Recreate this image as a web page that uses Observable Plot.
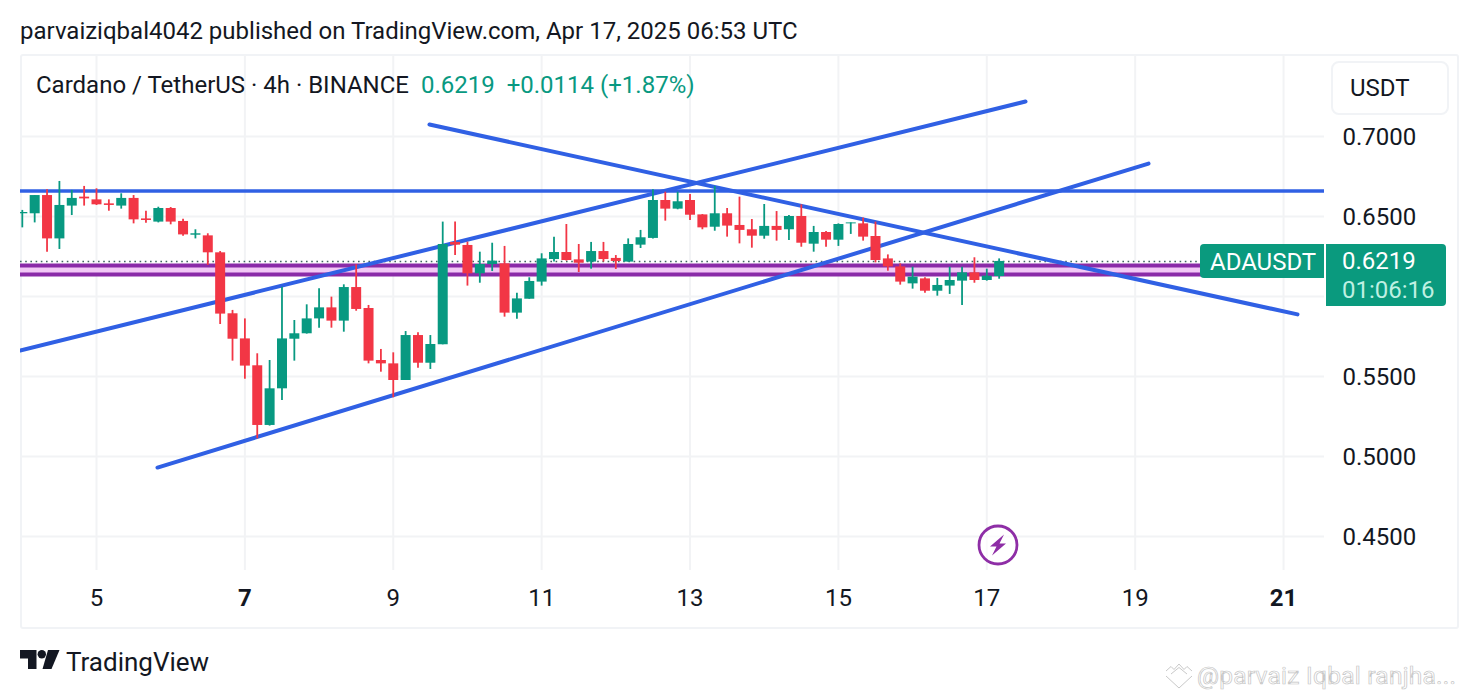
<!DOCTYPE html>
<html><head><meta charset="utf-8">
<script src="https://cdn.jsdelivr.net/npm/d3@7"></script>
<script src="https://cdn.jsdelivr.net/npm/@observablehq/plot@0.6"></script>
<style>
html,body{margin:0;padding:0;background:#fff;overflow:hidden;width:1476px;height:696px}
body{font-family:Roboto,sans-serif;color:#131722;position:relative}
.abs{position:absolute;white-space:nowrap}
#chart{position:absolute;left:0;top:55px}
#chart svg{display:block;overflow:visible;background:transparent}
</style></head><body>
<div class="abs" style="left:20px;top:54px;width:1435px;height:571px;border:2px solid #f1f3f6;border-radius:3px;box-sizing:content-box"></div>
<div id="chart"></div>
<div class="abs" id="title" style="left:20px;top:16px;font-size:24px;line-height:30px"></div>
<div class="abs" id="legend" style="left:36px;top:70px;font-size:24px;line-height:30px"></div>
<div class="abs" id="currency" style="left:1331px;top:61px;width:114px;height:50px;border:2px solid #f1f3f6;border-radius:8px;font-size:24px;line-height:50px;text-indent:17px"></div>
<div class="abs" id="symtag" style="left:1200px;top:244px;width:124px;height:34px;background:#0a9a7e;border-radius:4px 0 0 4px;color:#fff;font-size:24px;line-height:36px;text-indent:10px"></div>
<div class="abs" id="pricetag" style="left:1326px;top:244px;width:120px;height:62px;background:#0a9a7e;border-radius:0 4px 4px 0;color:#fff;font-size:24px;line-height:29px;padding-top:3px;box-sizing:border-box;text-indent:16px"></div>
<svg class="abs" style="left:977px;top:524px" width="42" height="42" viewBox="0 0 42 42">
  <circle cx="21" cy="21" r="19" fill="#fff" fill-opacity="0.6" stroke="#8e2ea6" stroke-width="2.8"/>
  <path d="M27 10.5 L13 22.5 H19.5 L15 31.5 L29 19.5 H22.5 Z" fill="#8e2ea6"/>
</svg>
<svg class="abs" style="left:20px;top:650px" width="40" height="20" viewBox="0 0 40 20">
  <path d="M0 0 H16.5 V19 H8 V8.5 H0 Z" fill="#131722"/>
  <circle cx="21.8" cy="4.3" r="4.2" fill="#131722"/>
  <path d="M28 0 H39.5 L31.5 19 H22.5 Z" fill="#131722"/>
</svg>
<div class="abs" id="brand" style="left:66px;top:646px;font-size:26px;line-height:32px"></div>
<svg class="abs" style="left:1165px;top:662px" width="28" height="28" viewBox="0 0 28 28" fill="none" stroke="#c9c9c9" stroke-width="1">
  <path d="M1 9 L6 4.5 L9 7.5 L14 2 L19 7.5 L22 4.5 L27 9 M6 12 L14 5.5 L22 12 M1 14 L14 26 L27 14"/>
</svg>
<div class="abs" id="watermark" style="left:1197px;top:660px;font-size:24.5px;line-height:32px;color:#fff;-webkit-text-stroke:0.7px #c4c4c4;letter-spacing:0.25px"></div>
<script>
const titleText = "parvaiziqbal4042 published on TradingView.com, Apr 17, 2025 06:53 UTC";
const legendText = "Cardano / TetherUS · 4h · BINANCE";
const legendPrice = "0.6219";
const legendChange = "+0.0114 (+1.87%)";
const currency = "USDT";
const symbol = "ADAUSDT";
const lastPrice = "0.6219";
const countdown = "01:06:16";
const brand = "TradingView";
const watermark = "@parvaiz Iqbal ranjha...";

const firstDay = 4, candlesPerDay = 6;
const opens = [.6517,.6517,.6631,.6360,.6565,.6621,.6604,.6579,.6565,.6613,.6485,.6465,.6550,.6469,.6383,.6379,.6273,.5892,.5735,.5567,
 .5194,.5423,.5733,.5767,.5860,.5929,.5846,.6056,.5925,.5600,.5579,.5475,.5756,.5583,.5698,.6338,.6319,.6142,.6200,.6204,
 .5896,.5983,.6090,.6231,.6275,.6229,.6215,.6281,.6238,.6215,.6321,.6363,.6600,.6546,.6600,.6510,.6433,.6517,.6444,.6417,
 .6377,.6438,.6417,.6500,.6327,.6400,.6352,.6454,.6454,.6375,.6235,.6185,.6079,.6110,.6033,.6065,.6096,.6148,.6100,.6125];
const highs = [.6538,.6631,.6667,.6719,.6663,.6688,.6673,.6604,.6642,.6631,.6533,.6558,.6556,.6483,.6417,.6392,.6281,.5913,.5860,.5642,
 .5600,.6058,.5850,.5948,.6048,.5996,.6073,.6198,.5944,.5669,.5648,.5781,.5773,.5756,.6465,.6465,.6340,.6277,.6333,.6313,
 .6021,.6117,.6267,.6371,.6450,.6325,.6338,.6338,.6256,.6360,.6413,.6667,.6652,.6652,.6638,.6512,.6688,.6550,.6621,.6481,
 .6575,.6531,.6506,.6573,.6438,.6406,.6454,.6460,.6490,.6465,.6260,.6204,.6183,.6117,.6113,.6183,.6183,.6242,.6171,.6235];
const lows = [.6429,.6460,.6277,.6294,.6506,.6565,.6569,.6533,.6546,.6454,.6458,.6460,.6448,.6377,.6360,.6194,.5825,.5596,.5483,.5110,
 .5190,.5350,.5596,.5765,.5802,.5802,.5777,.5908,.5579,.5527,.5367,.5475,.5552,.5544,.5698,.6256,.6065,.6083,.6156,.5871,
 .5858,.5983,.6065,.6215,.6221,.6150,.6171,.6215,.6169,.6215,.6300,.6360,.6471,.6542,.6475,.6417,.6408,.6371,.6329,.6302,
 .6358,.6346,.6350,.6308,.6277,.6308,.6313,.6388,.6346,.6210,.6158,.6071,.6046,.6021,.6002,.6013,.5944,.6083,.6096,.6108];
const closes = [.6525,.6631,.6360,.6569,.6613,.6610,.6573,.6569,.6613,.6479,.6475,.6550,.6465,.6385,.6392,.6273,.5890,.5733,.5565,.5194,
 .5423,.5735,.5767,.5860,.5929,.5846,.6056,.5919,.5596,.5579,.5475,.5756,.5583,.5700,.6325,.6321,.6142,.6200,.6221,.5896,
 .5985,.6094,.6235,.6275,.6225,.6208,.6281,.6231,.6219,.6325,.6367,.6600,.6546,.6592,.6508,.6429,.6517,.6440,.6413,.6377,
 .6438,.6413,.6500,.6333,.6400,.6352,.6450,.6460,.6371,.6225,.6185,.6090,.6121,.6033,.6069,.6100,.6148,.6100,.6127,.6219];

// Drawn trend lines: [day, price] end points
const risingUpperDays = [3.97, 17.522], risingUpperPrices = [.56625, .7219];
const risingLowerDays = [5.822, 19.18], risingLowerPrices = [.4931, .6831];
const fallingDays = [9.488, 21.188], fallingPrices = [.7075, .5888];
const resistanceDays = [3.97, 21.56], resistancePrices = [.6659, .6659];

const zoneTop = .6194, zoneBottom = .6137, lastClose = .6219;
const gridPrices = [.45,.5,.55,.6,.65,.7];
const priceTicks = [.45,.5,.55,.65,.7];
const gridDays = [5,7,9,11,13,15,17,19,21];
const plainDays = [5,9,11,13,15,17,19];
const boldDays = [7,21];

const green = "#089981", red = "#f23645", blue = "#3060e4", purple = "#8a2ba8";
const candles = opens.map((o,i)=>({day:firstDay+i/candlesPerDay,o,h:highs[i],l:lows[i],c:closes[i]}));
const pts = (xs,ys)=>xs.map((x,i)=>({x,y:ys[i]}));
const trend = (xs,ys,w=4)=>Plot.line(pts(xs,ys),{x:"x",y:"y",stroke:blue,strokeWidth:w,strokeLinecap:"round",clip:true});
const dirColor = d=>d.c>=d.o?green:red;

const plot = Plot.plot({
  width:1476,height:570,marginTop:0,marginLeft:20,marginRight:152,marginBottom:55,
  style:{fontFamily:"Roboto",background:"transparent",color:"#131722"},
  x:{domain:[3.9756,21.552],label:null},
  y:{domain:[.42875,.750625],label:null},
  marks:[
    Plot.ruleY(gridPrices,{stroke:"#f2f3f5",strokeWidth:2}),
    Plot.ruleX(gridDays,{stroke:"#f2f3f5",strokeWidth:2}),
    Plot.rect([{}],{x1:3.9756,x2:21.552,y1:zoneBottom,y2:zoneTop,fill:"#f2c9f6"}),
    Plot.ruleY([zoneTop,zoneBottom],{stroke:purple,strokeWidth:4}),
    Plot.ruleY([lastClose],{stroke:"#3f6360",strokeWidth:1.6,strokeDasharray:"1.6,3.6"}),
    trend(resistanceDays,resistancePrices,3.6),
    trend(risingUpperDays,risingUpperPrices),
    trend(risingLowerDays,risingLowerPrices),
    trend(fallingDays,fallingPrices),
    Plot.ruleX(candles,{x:"day",y1:"l",y2:"h",stroke:dirColor,strokeWidth:1.8,clip:true}),
    Plot.ruleX(candles,{x:"day",y1:"o",y2:"c",stroke:dirColor,strokeWidth:10,clip:true}),
    Plot.axisY({anchor:"right",ticks:priceTicks,tickFormat:d3.format(".4f"),tickSize:0,tickPadding:18,label:null,fontSize:24,dy:1}),
    Plot.axisX({anchor:"bottom",ticks:plainDays,tickFormat:d=>String(d),tickSize:0,tickPadding:18,label:null,fontSize:24}),
    Plot.axisX({anchor:"bottom",ticks:boldDays,tickFormat:d=>String(d),tickSize:0,tickPadding:18,label:null,fontSize:24,fontWeight:"bold"})
  ]
});
document.getElementById("chart").append(plot);
const el=id=>document.getElementById(id);
el("title").textContent=titleText;
el("legend").innerHTML=`${legendText} <span style="color:${green};margin-left:6px">${legendPrice}</span> <span style="color:${green};margin-left:6px">${legendChange}</span>`;
el("currency").textContent=currency;
el("symtag").textContent=symbol;
el("pricetag").innerHTML=`<div>${lastPrice}</div><div style="color:#bff0e2">${countdown}</div>`;
el("brand").textContent=brand;
el("watermark").textContent=watermark;
</script>
</body></html>
